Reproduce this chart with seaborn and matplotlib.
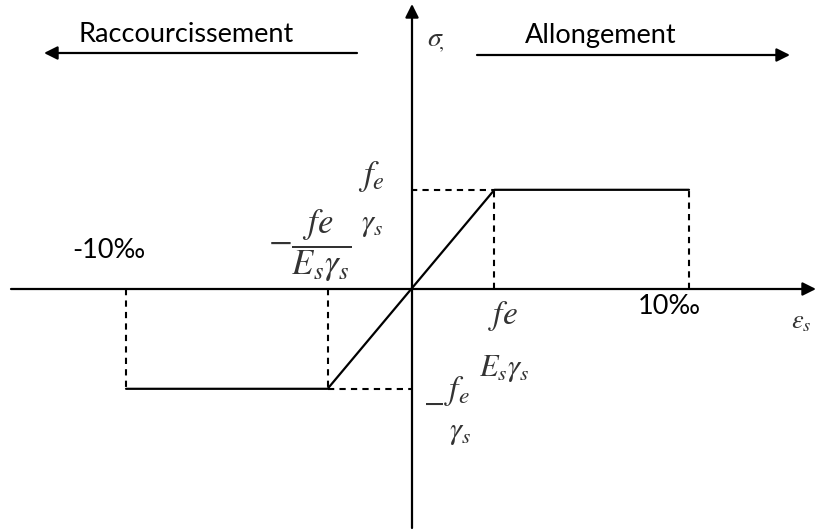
import matplotlib
matplotlib.use("Agg")
from matplotlib import pyplot as plt
import seaborn as sns

# elastic-perfectly-plastic steel law (strain in per mille, stress relative to fe)
strain = [-10.25, -3.0, 3.0, 10.0]
stress = [-1.0, -1.0, 1.0, 1.0]
eps_limits = [-10.25, 10.0]
eps_yield = [-3.0, 3.0]
fe_levels = [-1.0, 1.0]

W, H = 816, 530
ORIGIN = (411, 289.3)
PX_PER_EPS = 27.8
PX_PER_SIG = 99.5

sns.set_theme(style="white")
plt.rcParams['font.family'] = ['Lato', 'DejaVu Sans']
plt.rcParams['mathtext.fontset'] = 'stix'

fig = plt.figure(figsize=(W / 100, H / 100), dpi=100)
ax = fig.add_axes([0, 0, 1, 1])
ax.set_xlim(-ORIGIN[0] / PX_PER_EPS, (W - ORIGIN[0]) / PX_PER_EPS)
ax.set_ylim(-(H - ORIGIN[1]) / PX_PER_SIG, ORIGIN[1] / PX_PER_SIG)
ax.set_axis_off()


def P(px, py):
    # pixel position measured from the top-left corner
    return (px, H - py)


def arrow(tip, tail):
    ax.annotate("", xy=P(*tip), xytext=P(*tail), xycoords='figure pixels',
                textcoords='figure pixels',
                arrowprops=dict(arrowstyle='-|>', color='black', lw=1.6,
                                mutation_scale=20, shrinkA=0, shrinkB=0))


def label(s, px, py, size, color='black', **kw):
    ax.annotate(s, xy=P(px, py), xycoords='figure pixels', fontsize=size,
                color=color, ha='center', va='center', **kw)


# axes with arrows
arrow((816, 289), (11, 289))
arrow((412, 4), (412, 528))
arrow((44, 53), (357, 53))
arrow((790, 55), (477, 55))

# guide lines
dash = (0, (3, 2.5))
ax.vlines(eps_limits + eps_yield, 0, fe_levels + fe_levels, colors='black',
          linestyles=dash, lw=1.5)
ax.hlines(fe_levels, [eps_yield[0], 0], [0, eps_yield[1]], colors='black',
          linestyles=dash, lw=1.5)

# stress-strain law
sns.lineplot(x=strain, y=stress, sort=False, color='black', lw=1.6, ax=ax,
             legend=False)

# labels
label("Raccourcissement", 186, 35, 19.5)
label("Allongement", 601, 35, 19.5)
label("-10‰", 109, 250, 19.5)
label("10‰", 669, 307, 19.5)

grey = '#333333'
label(r"$\sigma_{\!,}$", 436, 42, 20, grey)
label(r"$\varepsilon_s$", 801, 322, 19, grey)
label(r"$f_e$", 371, 176, 25, grey)
label(r"$-\dfrac{fe}{E_s\gamma_s}$", 310, 246, 25, grey)
label(r"$\gamma_s$", 372, 225, 22, grey)
label(r"$fe$", 503, 316, 24, grey)
label(r"$-$", 433, 402, 22, grey)
label(r"$f_e$", 457, 391, 24, grey)
label(r"$E_s\gamma_s$", 504, 368, 22, grey)
label(r"$\gamma_s$", 460, 433, 22, grey)

fig.savefig("out.png", dpi=100)
